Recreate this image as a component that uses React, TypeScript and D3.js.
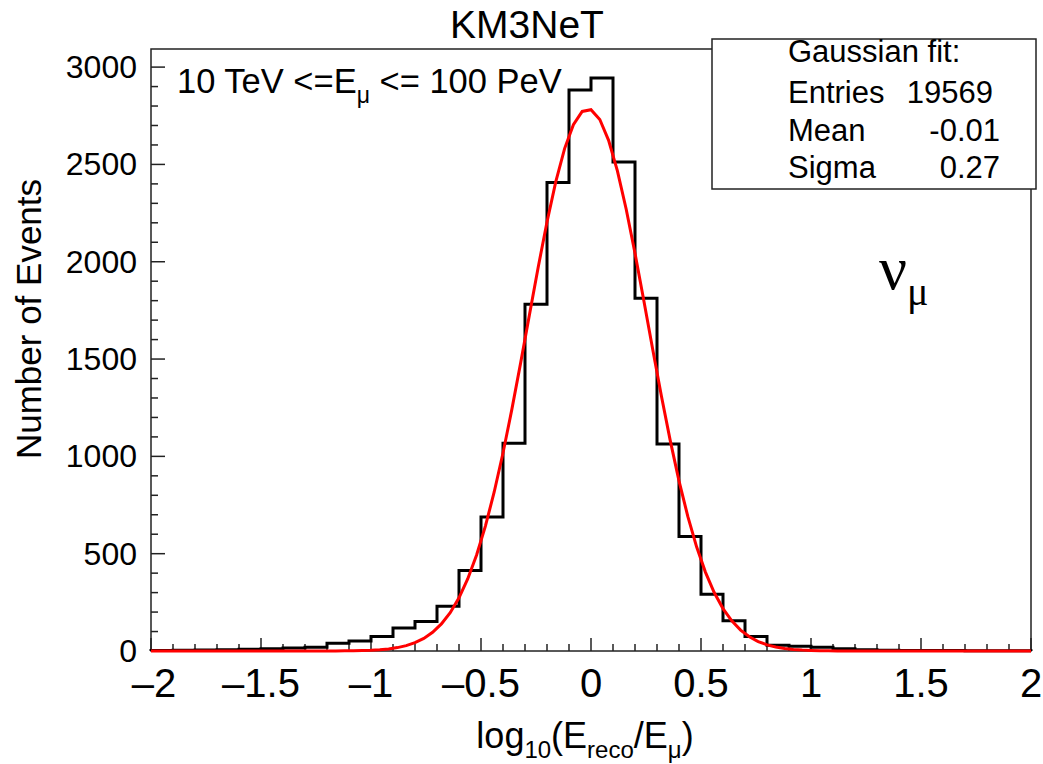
import React from "react";
import * as d3 from "d3";

// ---- data ----
const binLow: number[] = d3.range(40).map((i) => -2 + i * 0.1);
const binCounts: number[] = [
  3, 4, 5, 7, 9, 12, 15, 19, 40, 51,
  74, 118, 152, 230, 413, 688, 1067, 1781, 2407, 2882,
  2944, 2512, 1812, 1064, 588, 292, 156, 74, 30, 24,
  19, 12, 6, 4, 3, 2, 2, 1, 1, 1,
];
const binWidth = 0.1;
const fitConstant = 2785;
const fitMean = -0.014;
const fitSigma = 0.272;
const xTicks: number[] = [-2, -1.5, -1, -0.5, 0, 0.5, 1, 1.5, 2];
const yTicks: number[] = [0, 500, 1000, 1500, 2000, 2500, 3000];
const statsLabels: string[] = ["Entries", "Mean", "Sigma"];
const statsValues: string[] = ["19569", "-0.01", "0.27"];

const W = 1043;
const H = 764;
const L = 151, R = 1031, T = 49, B = 651;
const FONT = "'Liberation Sans', Arial, Helvetica, sans-serif";
const SERIF = "'Liberation Serif', 'Times New Roman', serif";

export default function App() {
  const x = d3.scaleLinear().domain([-2, 2]).range([L, R]);
  const y = d3.scaleLinear().domain([0, 3093]).range([B, T]);

  // histogram step outline
  const pts: [number, number][] = [];
  pts.push([x(binLow[0]), y(0)]);
  binCounts.forEach((c, i) => {
    pts.push([x(binLow[i]), y(c)]);
    pts.push([x(binLow[i] + binWidth), y(c)]);
  });
  pts.push([x(2), y(0)]);
  const histPath = d3.line()(pts) || "";

  // gaussian fit curve, sampled on 100 points like ROOT's TF1
  const fx = d3.range(101).map((i) => -2 + (4 * i) / 100);
  const fitPts: [number, number][] = fx.map((v) => [
    x(v),
    y(fitConstant * Math.exp(-0.5 * ((v - fitMean) / fitSigma) ** 2)),
  ]);
  const fitPath = d3.line()(fitPts) || "";

  const xMinor = d3.range(41).map((i) => -2 + i * 0.1);
  const yMinor = d3.range(31).map((i) => i * 100);

  return (
    <svg
      width={W}
      height={H}
      style={{ position: "absolute", left: 0, top: 0, background: "#fff" }}
      fontFamily={FONT}
    >
      <rect x={0} y={0} width={W} height={H} fill="#fff" />
      {/* title */}
      <text x={527} y={38} fontSize={39} textAnchor="middle" fill="#000">
        KM3NeT
      </text>

      {/* frame */}
      <rect x={L} y={T} width={R - L} height={B - T} fill="none" stroke="#222" strokeWidth={1.5} />

      {/* y ticks */}
      {yMinor.map((v) => (
        <line
          key={"ym" + v}
          x1={L}
          x2={L + (v % 500 === 0 ? 14 : 7)}
          y1={y(v)}
          y2={y(v)}
          stroke="#222"
          strokeWidth={1.5}
        />
      ))}
      {yTicks.map((v) => (
        <text key={"yt" + v} x={137} y={y(v) + 11} fontSize={32} textAnchor="end" fill="#000">
          {v}
        </text>
      ))}

      {/* x ticks */}
      {xMinor.map((v, i) => (
        <line
          key={"xm" + i}
          x1={x(v)}
          x2={x(v)}
          y1={B}
          y2={B - (i % 5 === 0 ? 13 : 7)}
          stroke="#222"
          strokeWidth={1.5}
        />
      ))}
      {xTicks.map((v) => (
        <text key={"xt" + v} x={x(v) + (v === -2 ? 3 : 0)} y={697} fontSize={40} textAnchor="middle" fill="#000">
          {v < 0 ? "\u2013" + Math.abs(v) : String(v)}
        </text>
      ))}

      {/* histogram */}
      <path d={histPath} fill="none" stroke="#000" strokeWidth={3} />
      {/* fit */}
      <path d={fitPath} fill="none" stroke="#ff0000" strokeWidth={3} />

      {/* axis titles */}
      <text x={585} y={748} fontSize={36} textAnchor="middle" fill="#000">
        log
        <tspan fontSize={24} dy={10}>10</tspan>
        <tspan fontSize={36} dy={-10}>(E</tspan>
        <tspan fontSize={24} dy={10}>reco</tspan>
        <tspan fontSize={36} dy={-10}>/E</tspan>
        <tspan fontSize={24} dy={10}>μ</tspan>
        <tspan fontSize={36} dy={-10}>)</tspan>
      </text>
      <text
        transform={`translate(41,319) rotate(-90)`}
        fontSize={35}
        textAnchor="middle"
        fill="#000"
      >
        Number of Events
      </text>

      {/* range label */}
      <text x={177} y={93} fontSize={34.5} fill="#000">
        10 TeV &lt;=E
        <tspan fontSize={23} dy={10}>μ</tspan>
        <tspan dy={-10}> &lt;= 100 PeV</tspan>
      </text>

      {/* nu_mu */}
      <text x={879} y={289} fontSize={62} fontFamily={SERIF} fill="#000">
        ν
        <tspan fontSize={40} dy={16}>μ</tspan>
      </text>

      {/* stats box */}
      <rect x={712} y={39} width={324} height={150} fill="#fff" stroke="#222" strokeWidth={1.5} />
      <text x={788} y={62} fontSize={31} fill="#000">Gaussian fit:</text>
      {statsLabels.map((s, i) => (
        <g key={s}>
          <text x={788} y={103 + i * 37.5} fontSize={31} fill="#000">{s}</text>
          <text x={i === 0 ? 993 : 1000} y={103 + i * 37.5} fontSize={31} textAnchor="end" fill="#000">
            {statsValues[i]}
          </text>
        </g>
      ))}
    </svg>
  );
}
